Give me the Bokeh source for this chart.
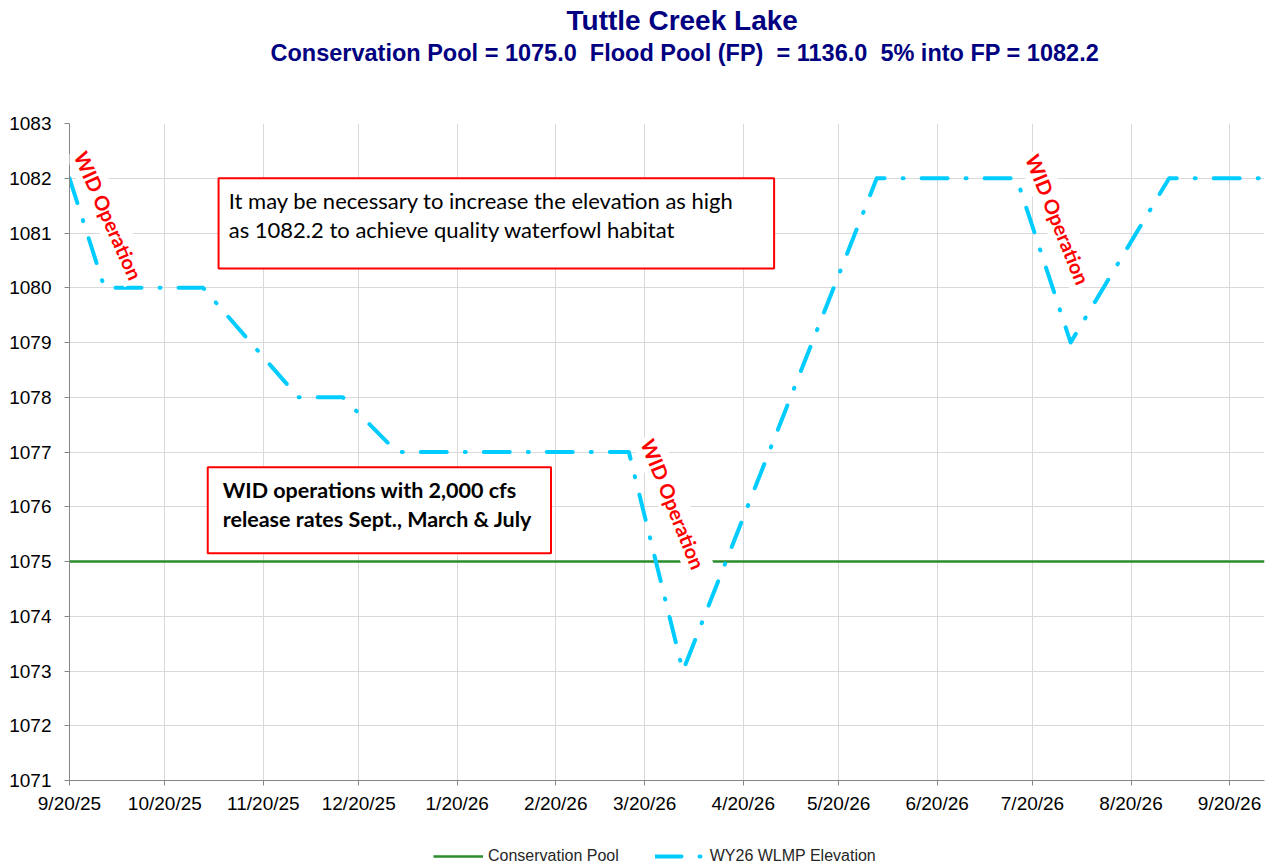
import pandas as pd
from bokeh.plotting import figure
from bokeh.layouts import column
from bokeh.models import (FixedTicker, Legend, LegendItem, Label, BoxAnnotation,
                          Title, Range1d)
from bokeh.embed import file_html
from bokeh.resources import INLINE

# ---------------- data ----------------
wlmp_dates = ["2025-09-20", "2025-10-01", "2025-11-01", "2025-12-01", "2025-12-15",
              "2026-01-01", "2026-03-15", "2026-04-01", "2026-06-01", "2026-07-15",
              "2026-08-01", "2026-09-01", "2026-10-01"]
wlmp_elev = [1082.0, 1080.0, 1080.0, 1078.0, 1078.0,
             1077.0, 1077.0, 1073.0, 1082.0, 1082.0,
             1079.0, 1082.0, 1082.0]

pool_dates = ["2025-09-20", "2026-10-01"]
pool_elev = [1075.0, 1075.0]

xtick_dates = ["2025-09-20", "2025-10-20", "2025-11-20", "2025-12-20", "2026-01-20",
               "2026-02-20", "2026-03-20", "2026-04-20", "2026-05-20", "2026-06-20",
               "2026-07-20", "2026-08-20", "2026-09-20"]
xtick_labels = ["9/20/25", "10/20/25", "11/20/25", "12/20/25", "1/20/26", "2/20/26",
                "3/20/26", "4/20/26", "5/20/26", "6/20/26", "7/20/26", "8/20/26", "9/20/26"]
ytick_values = list(range(1071, 1084))

x_start, x_end = "2025-09-20", "2026-10-01"
y_start, y_end = 1071, 1083

title_text = "Tuttle Creek Lake"
subtitle_text = ("Conservation Pool = 1075.0\u00a0 Flood Pool (FP)\u00a0 = 1136.0"
                 "\u00a0 5% into FP = 1082.2")
note1_lines = ["It may be necessary to increase the elevation as high",
               "as 1082.2 to achieve quality waterfowl habitat"]
note2_lines = ["WID operations with 2,000 cfs",
               "release rates Sept., March & July"]
series_names = ["Conservation Pool", "WY26 WLMP Elevation"]


def ms(s):
    return int(pd.Timestamp(s).value // 10**6)


DAY = 86400000
d0 = ms(x_start)

TICK_FONT = "Liberation Sans"
BOX_FONT = "Lato"
POOL_STYLE = dict(line_color="#2a8c2a", line_width=2.5)
ELEV_STYLE = dict(line_color="#00CCFF", line_width=4, line_dash="26 18 1 18",
                  line_cap="round", line_join="round")

p = figure(frame_width=1195, frame_height=657, x_axis_type="datetime",
           x_range=Range1d(ms(x_start), ms(x_end)),
           y_range=Range1d(y_start, y_end),
           output_backend="svg", toolbar_location=None,
           min_border_left=69, min_border_right=10, min_border_top=0,
           min_border_bottom=66)
p.title_location = None
p.outline_line_color = None
p.background_fill_color = "white"
p.border_fill_color = "white"

# axes
p.xaxis.ticker = FixedTicker(ticks=[ms(d) for d in xtick_dates])
p.xaxis.major_label_overrides = {ms(d): l for d, l in zip(xtick_dates, xtick_labels)}
p.yaxis.ticker = FixedTicker(ticks=ytick_values)
for ax in (p.xaxis[0], p.yaxis[0]):
    ax.axis_line_color = "#868686"
    ax.major_tick_line_color = "#868686"
    ax.major_tick_out = 5
    ax.major_tick_in = 0
    ax.minor_tick_line_color = None
    ax.major_label_text_font = TICK_FONT
    ax.major_label_text_font_size = "19px"
    ax.major_label_text_color = "#000000"
p.xaxis.major_label_standoff = 7
p.yaxis.major_label_standoff = 13

p.xgrid.ticker = p.xaxis[0].ticker
p.ygrid.ticker = p.yaxis[0].ticker
p.xgrid.grid_line_color = "#d9d9d9"
p.ygrid.grid_line_color = "#d9d9d9"

# series
p.line(pd.to_datetime(pool_dates), pool_elev, **POOL_STYLE)
p.line(pd.to_datetime(wlmp_dates), wlmp_elev, **ELEV_STYLE)

# titles (spacer first = closest to the frame)
spacer = Title(text="\u00a0", standoff=44.5, text_font=TICK_FONT, text_font_size="10px")
p.add_layout(spacer, "above")
sub = Title(text=subtitle_text, align="left", offset=201, standoff=0,
            text_font=TICK_FONT, text_font_size="23.5px", text_font_style="bold",
            text_color="#000080")
p.add_layout(sub, "above")
main = Title(text=title_text, align="left", offset=497, standoff=4,
             text_font=TICK_FONT, text_font_size="28px", text_font_style="bold",
             text_color="#000080")
p.add_layout(main, "above")

# note boxes
box_style = dict(fill_color="white", fill_alpha=1.0, line_color="#FF0000",
                 line_alpha=1.0, line_width=2)
box1 = BoxAnnotation(left=d0 + 46.9 * DAY, right=d0 + 221.7 * DAY, bottom=1080.35, top=1082.0,
                     **box_style)
box2 = BoxAnnotation(left=d0 + 43.5 * DAY, right=d0 + 151.5 * DAY, bottom=1075.15, top=1076.72,
                     **box_style)
p.add_layout(box1)
p.add_layout(box2)

for txt, yy in zip(note1_lines, [1081.594, 1081.064]):
    p.add_layout(Label(x=d0 + 50.1 * DAY, y=yy, text=txt, text_font=BOX_FONT,
                       text_font_size="22px", text_align="left", text_baseline="middle",
                       text_color="#000000"))
for txt, yy in zip(note2_lines, [1076.297, 1075.785]):
    p.add_layout(Label(x=d0 + 48.2 * DAY, y=yy, text=txt, text_font=BOX_FONT,
                       text_font_size="21.5px", text_font_style="bold", text_align="left",
                       text_baseline="middle", text_color="#000000"))

# WID operation labels
for dx, yy, ang in [(12.3, 1081.32, -66), (190.0, 1076.05, -68), (311.0, 1081.25, -68)]:
    p.add_layout(Label(x=d0 + dx * DAY, y=yy, text="WID Operation", angle=ang,
                       angle_units="deg", text_align="center", text_baseline="middle",
                       text_font=BOX_FONT, text_font_size="20px", text_font_style="bold",
                       text_color="#FF0000", background_fill_color="white",
                       background_fill_alpha=1.0, padding=3))

# legend strip below the chart (sample renderers sit outside the visible range)
p2 = figure(width=1274, height=20, x_range=Range1d(0, 1), y_range=Range1d(0, 1),
            output_backend="svg", toolbar_location=None, min_border=0,
            x_axis_location=None, y_axis_location=None)
p2.title_location = None
p2.grid.visible = False
p2.outline_line_color = None
lp = p2.line(x=[5, 6], y=[5, 5], **POOL_STYLE)
le = p2.line(x=[5, 6], y=[5, 5], **ELEV_STYLE)
legend = Legend(items=[LegendItem(label=series_names[0], renderers=[lp]),
                       LegendItem(label=series_names[1], renderers=[le])],
                orientation="horizontal", location=(364, 0),
                glyph_width=50, glyph_height=20, label_height=20, label_standoff=5,
                spacing=36, padding=0, margin=0, border_line_color=None,
                background_fill_alpha=0,
                label_text_font=TICK_FONT, label_text_font_size="16px",
                label_text_color="#262626")
p2.add_layout(legend)

layout = column(p, p2, spacing=0)
open("out.html", "w").write(file_html(layout, INLINE))
